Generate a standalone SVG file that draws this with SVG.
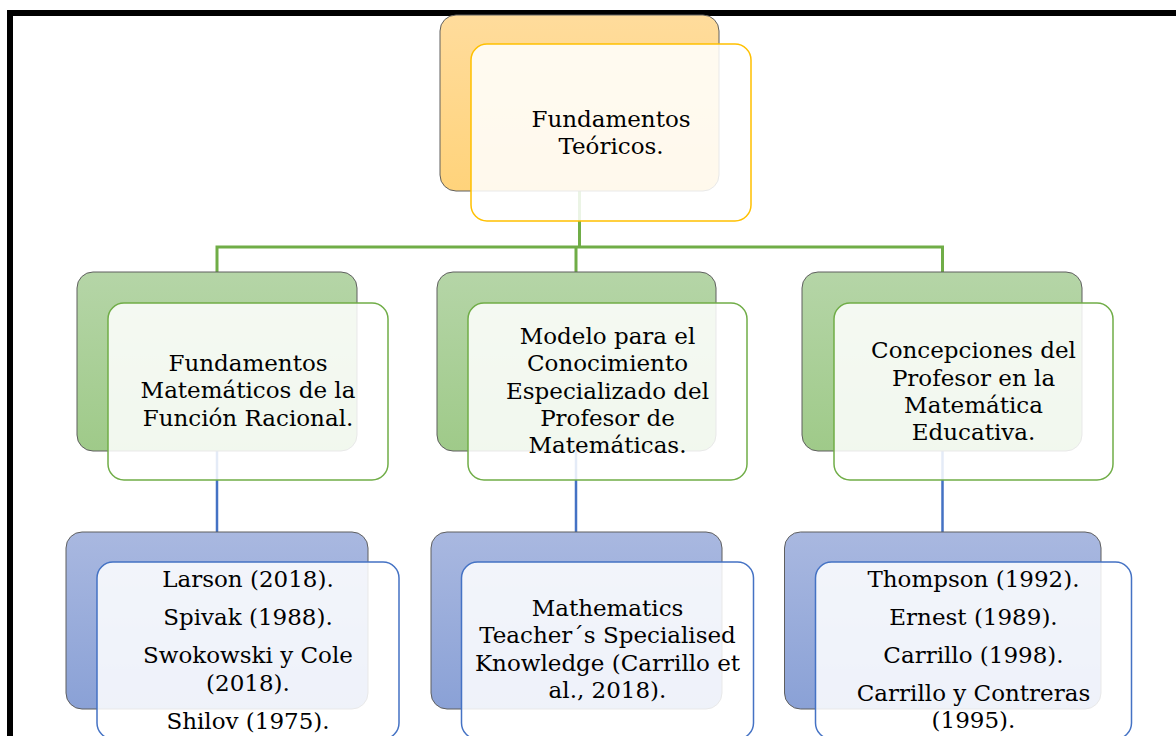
<svg xmlns="http://www.w3.org/2000/svg" width="1176" height="736" viewBox="0 0 1176 736">
<defs>
<linearGradient id="gO" x1="0" y1="0" x2="0" y2="1"><stop offset="0" stop-color="#FFDC9C"/><stop offset="1" stop-color="#FFD37B"/></linearGradient>
<linearGradient id="gG" x1="0" y1="0" x2="0" y2="1"><stop offset="0" stop-color="#B5D5A7"/><stop offset="1" stop-color="#9FCA89"/></linearGradient>
<linearGradient id="gB" x1="0" y1="0" x2="0" y2="1"><stop offset="0" stop-color="#A9B8E0"/><stop offset="1" stop-color="#8AA1D6"/></linearGradient>
</defs>
<style>
.back{stroke:#5f5f5f;stroke-width:1}
.front{fill:#ffffff;fill-opacity:0.86;stroke-width:1.5}
.fo{stroke:#FFC000}
.fg{stroke:#70AD47}
.fb{stroke:#4472C4}
.cg{fill:none;stroke:#70AD47;stroke-width:3}
.cb{fill:none;stroke:#4472C4;stroke-width:2.5}
.t{font-family:"DejaVu Serif","Liberation Serif",serif;font-size:23px;text-anchor:middle;fill:#000}
</style>
<rect x="0" y="0" width="1176" height="736" fill="#fff"/>
<rect x="10" y="13" width="1200" height="800" fill="none" stroke="#000" stroke-width="6"/>
<g id="connectors">
<path class="cg" d="M579.5 191 V247 M217 272 V247 H942.5 V272 M576 247 V272"/>
<path class="cb" d="M217 451 V532 M576 451 V532 M942.5 451 V532"/>
</g>
<g id="n0">
<rect class="back" x="440" y="15" width="279" height="176" rx="16" fill="url(#gO)"/>
<rect class="front fo" x="471" y="44" width="280" height="177" rx="16"/>
<text class="t" x="611" y="127">Fundamentos</text>
<text class="t" x="611" y="154">Teóricos.</text>
</g>
<g id="n1">
<rect class="back" x="77" y="272" width="280" height="179" rx="16" fill="url(#gG)"/>
<rect class="front fg" x="108" y="303" width="280" height="177" rx="16"/>
<text class="t" x="248" y="371">Fundamentos</text>
<text class="t" x="248" y="398.3">Matemáticos de la</text>
<text class="t" x="248" y="425.7">Función Racional.</text>
</g>
<g id="n2">
<rect class="back" x="437" y="272" width="279" height="179" rx="16" fill="url(#gG)"/>
<rect class="front fg" x="468" y="303" width="279" height="177" rx="16"/>
<text class="t" x="607.5" y="344">Modelo para el</text>
<text class="t" x="607.5" y="371.3">Conocimiento</text>
<text class="t" x="607.5" y="398.6">Especializado del</text>
<text class="t" x="607.5" y="425.9">Profesor de</text>
<text class="t" x="607.5" y="453">Matemáticas.</text>
</g>
<g id="n3">
<rect class="back" x="802" y="272" width="280" height="179" rx="16" fill="url(#gG)"/>
<rect class="front fg" x="834" y="303" width="279" height="177" rx="16"/>
<text class="t" x="973.5" y="358.3">Concepciones del</text>
<text class="t" x="973.5" y="385.6">Profesor en la</text>
<text class="t" x="973.5" y="412.9">Matemática</text>
<text class="t" x="973.5" y="440.2">Educativa.</text>
</g>
<g id="n4">
<rect class="back" x="66" y="532" width="302" height="177" rx="16" fill="url(#gB)"/>
<rect class="front fb" x="97" y="562" width="302" height="177" rx="16"/>
<text class="t" x="248" y="587.3">Larson (2018).</text>
<text class="t" x="248" y="625">Spivak (1988).</text>
<text class="t" x="248" y="663.3">Swokowski y Cole</text>
<text class="t" x="248" y="690.7">(2018).</text>
<text class="t" x="248" y="728.7">Shilov (1975).</text>
</g>
<g id="n5">
<rect class="back" x="431" y="532" width="291" height="177" rx="16" fill="url(#gB)"/>
<rect class="front fb" x="461.5" y="562" width="292" height="177" rx="16"/>
<text class="t" x="607.5" y="615.7">Mathematics</text>
<text class="t" x="607.5" y="643.3">Teacher´s Specialised</text>
<text class="t" x="607.5" y="670.7">Knowledge (Carrillo et</text>
<text class="t" x="607.5" y="698">al., 2018).</text>
</g>
<g id="n6">
<rect class="back" x="784.5" y="532" width="316.5" height="177" rx="16" fill="url(#gB)"/>
<rect class="front fb" x="815.5" y="562" width="316" height="177" rx="16"/>
<text class="t" x="973.5" y="587.3">Thompson (1992).</text>
<text class="t" x="973.5" y="625">Ernest (1989).</text>
<text class="t" x="973.5" y="663.3">Carrillo (1998).</text>
<text class="t" x="973.5" y="701">Carrillo y Contreras</text>
<text class="t" x="973.5" y="728.3">(1995).</text>
</g>
</svg>
